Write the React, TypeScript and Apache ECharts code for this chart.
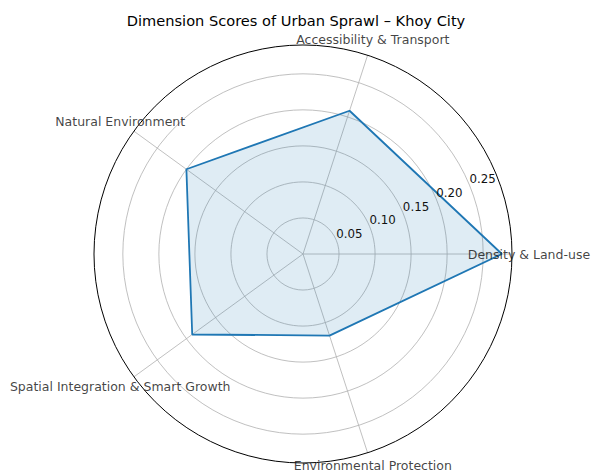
import React, { useEffect, useRef } from "react";
import * as echarts from "echarts";

const categories = [
  "Density & Land-use",
  "Accessibility & Transport",
  "Natural Environment",
  "Spatial Integration & Smart Growth",
  "Environmental Protection",
];
const scores = [0.276, 0.209, 0.2, 0.19, 0.119];
const radialTicks = [0.05, 0.1, 0.15, 0.2, 0.25];
const radialMax = 0.29;
const titleText = "Dimension Scores of Urban Sprawl \u2013 Khoy City";

const FONT = "DejaVu Sans";

export default function App() {
  const ref = useRef<HTMLDivElement>(null);
  useEffect(() => {
    if (!ref.current) return;
    const chart = echarts.init(ref.current, undefined, { renderer: "svg" });
    const step = 360 / categories.length;
    const angles = categories.map((_, i) => i * step);
    const lineData = scores.map((v, i) => [v, angles[i]]);
    lineData.push([scores[0], angles[0]]);
    const labelData = categories.map((c, i) => {
      const a = angles[i];
      const bottom = a > 270 && a < 300;
      return {
        name: c,
        value: [radialMax * 1.081, a],
        label: bottom ? { offset: [0, -3] } : undefined,
      };
    });
    const center = [303, 254];
    const radius = 209;
    const isTick = (v: number) => radialTicks.some((t) => Math.abs(t - v) < 1e-9);

    chart.setOption({
      animation: false,
      textStyle: { fontFamily: FONT },
      title: {
        text: titleText,
        left: "center",
        top: 8,
        textStyle: { fontFamily: FONT, fontSize: 14.6, fontWeight: "normal", color: "#000" },
      },
      polar: [
        { center, radius },
        { center, radius },
      ],
      angleAxis: [
        {
          polarIndex: 0,
          type: "value",
          min: 0,
          max: 360,
          interval: step,
          startAngle: 0,
          clockwise: false,
          axisLine: { show: true, lineStyle: { color: "#000", width: 1 } },
          axisTick: { show: false },
          axisLabel: { show: false },
          splitLine: { show: true, lineStyle: { color: "#b0b0b0", width: 0.8 } },
          z: 3,
        },
        {
          polarIndex: 1,
          type: "value",
          min: 0,
          max: 360,
          startAngle: 22.5,
          clockwise: false,
          axisLine: { show: false },
          axisTick: { show: false },
          axisLabel: { show: false },
          splitLine: { show: false },
        },
      ],
      radiusAxis: [
        {
          polarIndex: 0,
          type: "value",
          min: 0,
          max: radialMax,
          interval: 0.05,
          axisLine: { show: false },
          axisTick: { show: false },
          axisLabel: { show: false },
          splitLine: {
            show: true,
            lineStyle: {
              color: ["#b0b0b0", "#b0b0b0", "#b0b0b0", "#b0b0b0", "#b0b0b0", "#b0b0b0", "rgba(0,0,0,0)"],
              width: 0.8,
            },
          },
        },
        {
          polarIndex: 1,
          type: "value",
          min: 0,
          max: radialMax,
          interval: 0.05,
          axisLine: { show: false },
          axisTick: { show: false },
          splitLine: { show: false },
          axisLabel: {
            show: true,
            margin: 0,
            align: "left",
            verticalAlign: "bottom",
            fontFamily: FONT,
            fontSize: 11.8,
            color: "#111",
            formatter: (v: number) => (isTick(v) ? v.toFixed(2) : ""),
          },
          z: 10,
        },
      ],
      series: [
        {
          type: "line",
          coordinateSystem: "polar",
          polarIndex: 0,
          data: lineData,
          symbol: "none",
          lineStyle: { color: "#1f77b4", width: 1.8 },
          areaStyle: { color: "rgba(31,119,180,0.2)" },
          z: 5,
        },
        {
          type: "scatter",
          coordinateSystem: "polar",
          polarIndex: 0,
          data: labelData,
          clip: false,
          symbolSize: 1,
          itemStyle: { color: "rgba(0,0,0,0)" },
          label: {
            show: true,
            position: "inside",
            formatter: "{b}",
            fontFamily: FONT,
            fontSize: 12.5,
            color: "#111",
            align: "center",
            verticalAlign: "middle",
          },
          silent: true,
          z: 10,
        },
      ],
    });
    return () => chart.dispose();
  }, []);
  return (
    <div
      ref={ref}
      style={{ position: "fixed", left: 0, top: 0, width: 592, height: 473, background: "#fff" }}
    />
  );
}
